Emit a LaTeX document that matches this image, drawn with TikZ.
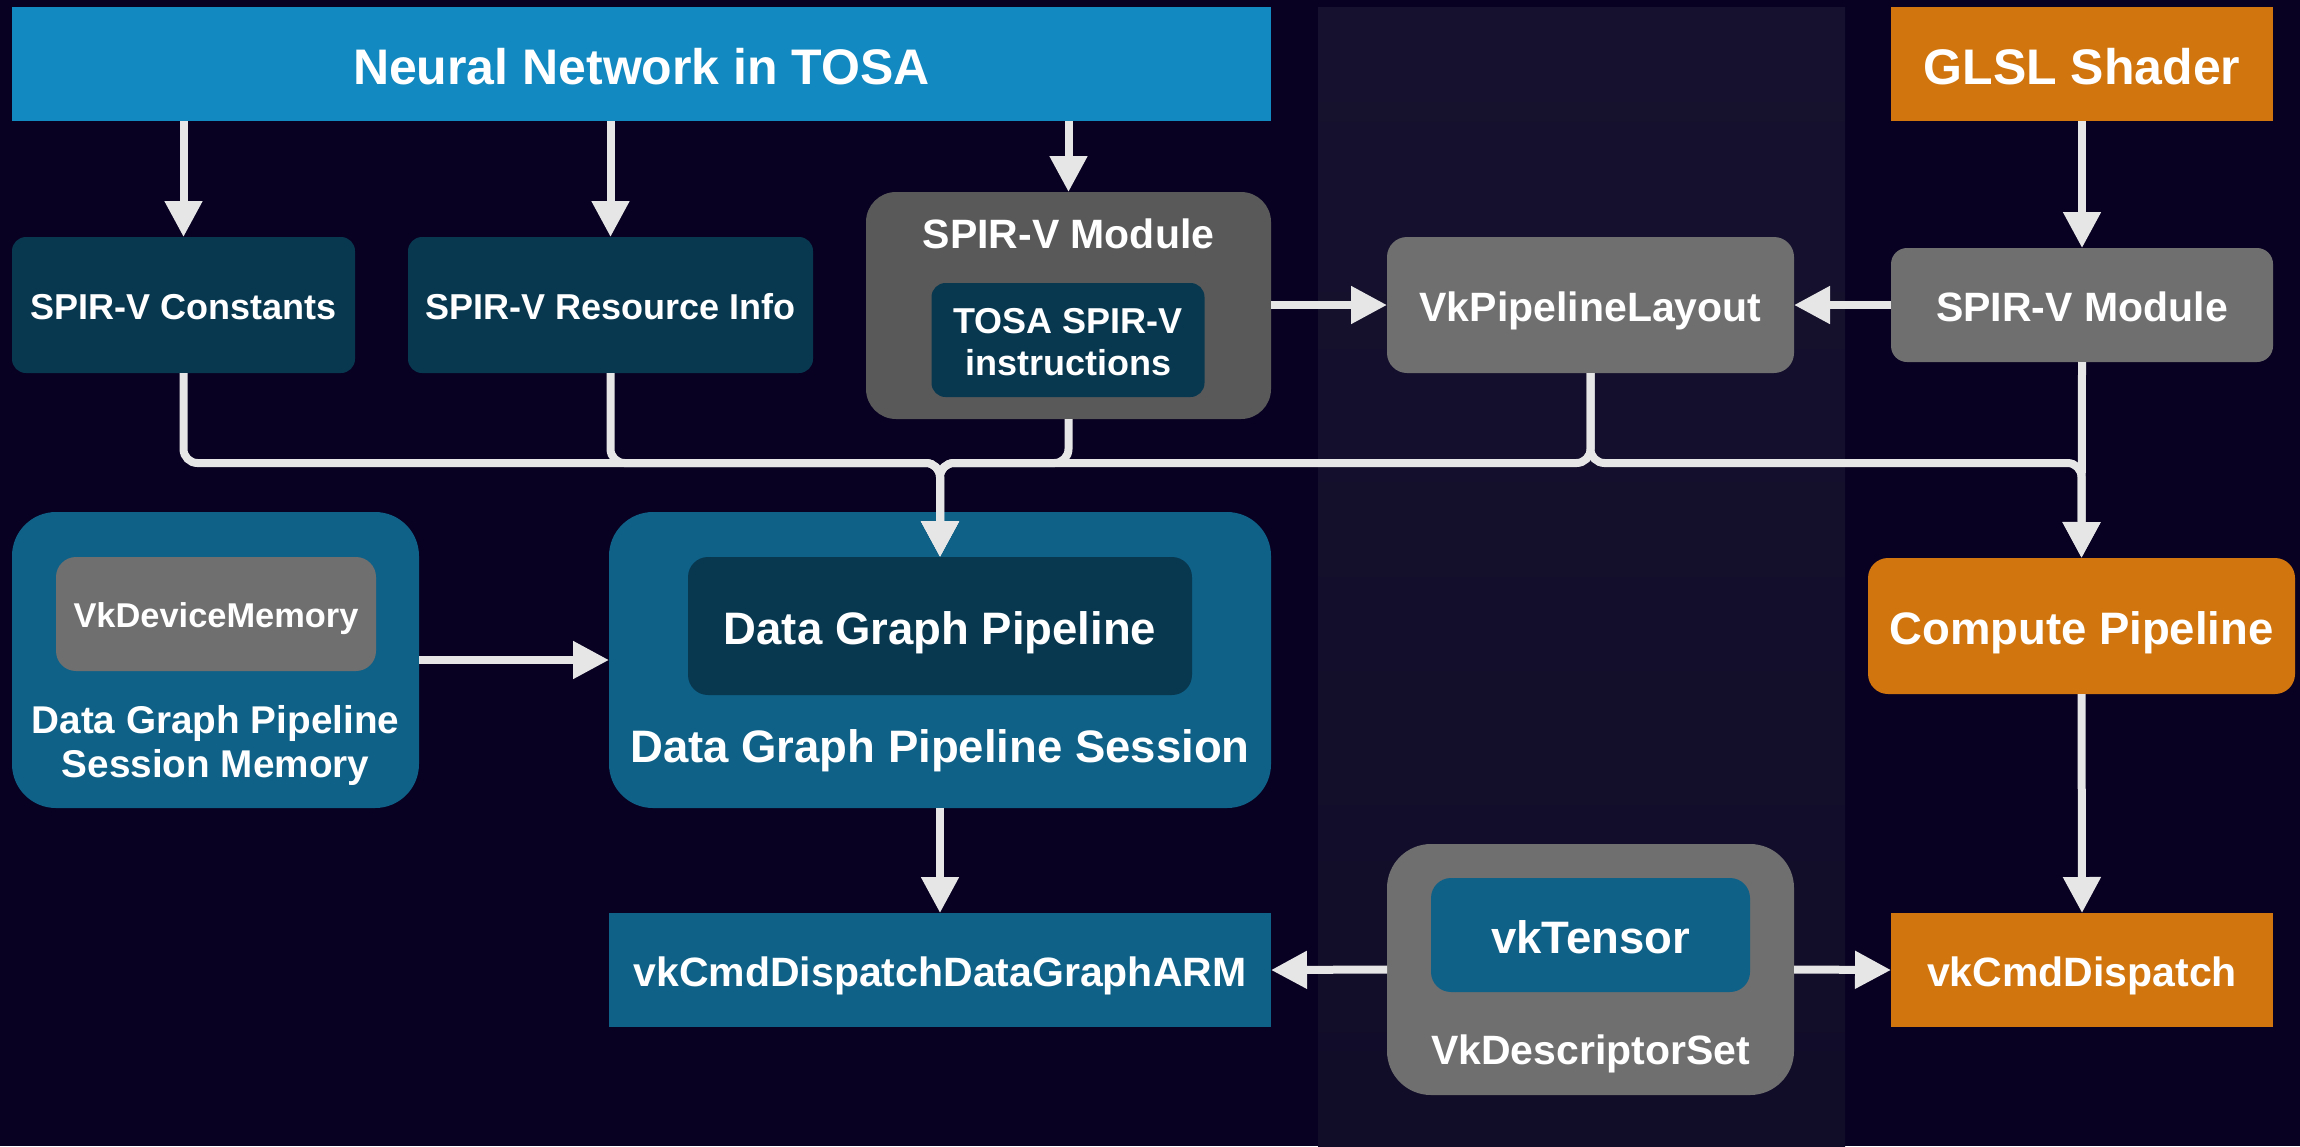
\documentclass[tikz,border=0pt]{standalone}
\usepackage{fontspec}
\setmainfont{Liberation Sans}
\usetikzlibrary{arrows.meta}

\definecolor{bgc}{RGB}{8,1,34}
\definecolor{colTop}{RGB}{22,17,46}
\definecolor{colMid}{RGB}{33,27,57}
\definecolor{colBot}{RGB}{17,12,40}
\definecolor{tosablue}{RGB}{18,137,192}
\definecolor{orangebox}{RGB}{209,118,14}
\definecolor{darkteal}{RGB}{8,56,80}
\definecolor{midblue}{RGB}{15,97,136}
\definecolor{grayD}{RGB}{89,89,89}
\definecolor{grayL}{RGB}{111,111,111}
\definecolor{wire}{RGB}{230,230,230}

\begin{document}
\begin{tikzpicture}[x=0.5pt,y=-0.5pt,
  box/.style={inner sep=0pt, outer sep=0pt, text=white},
  txt/.style={inner sep=0pt, outer sep=0pt, text=white, anchor=base},
  fsA/.style={font=\bfseries\fontsize{25pt}{30pt}\selectfont, text height=20pt, text depth=0pt},
  fsB/.style={font=\bfseries\fontsize{22.75pt}{27pt}\selectfont, text height=18.2pt, text depth=0pt},
  fsC/.style={font=\bfseries\fontsize{20.5pt}{25pt}\selectfont, text height=16.4pt, text depth=0pt},
  fsD/.style={font=\bfseries\fontsize{18pt}{22pt}\selectfont, text height=14.4pt, text depth=0pt},
  fsE/.style={font=\bfseries\fontsize{17.2pt}{21pt}\selectfont, text height=13.8pt, text depth=0pt},
  fsF/.style={font=\bfseries\fontsize{19.35pt}{23pt}\selectfont},
  conn/.style={draw=wire, line width=4pt, rounded corners=7pt,
    -{Triangle[length=18pt,width=18pt]}},
]
\useasboundingbox (0,0) rectangle (2300,1146);
\fill[bgc] (0,0) rectangle (2300,1146);

% highlighted middle column
\shade[top color=colTop, middle color=colMid, bottom color=colBot]
  (1318,7) rectangle (1845,1146);

% sources
\node[box, fill=tosablue, minimum width=629.5pt, minimum height=57pt, fsA] (nn) at (641.5,64) {Neural Network in TOSA};
\node[box, fill=orangebox, minimum width=191pt, minimum height=57pt, fsA] (glsl) at (2082,64) {GLSL Shader};

% SPIR-V parts
\node[box, fill=darkteal, rounded corners=7pt, minimum width=171.5pt, minimum height=68pt, fsD] (const) at (183.5,305) {SPIR-V Constants};
\node[box, fill=darkteal, rounded corners=7pt, minimum width=202.5pt, minimum height=68pt, fsD] (resinfo) at (610.5,305) {SPIR-V Resource Info};
\node[box, fill=grayD, rounded corners=15pt, minimum width=202.5pt, minimum height=113.5pt] (modL) at (1068.5,305.5) {};
\node[txt, fsC] (modLtitle) at (1068.5,248) {SPIR-V Module};
\node[box, fill=darkteal, rounded corners=7pt, minimum width=136.5pt, minimum height=57pt] (tosa) at (1068,340) {};
\node[txt, fsD] (tosaA) at (1068,333) {TOSA SPIR-V};
\node[txt, fsD] (tosaB) at (1068,375) {instructions};

\node[box, fill=grayL, rounded corners=10pt, minimum width=203.5pt, minimum height=68pt, fsC] (layout) at (1590.5,305) {VkPipelineLayout};
\node[box, fill=grayL, rounded corners=8pt, minimum width=191pt, minimum height=57pt, fsC] (modR) at (2082,305) {SPIR-V Module};

% session memory
\node[box, fill=midblue, rounded corners=22pt, minimum width=203.5pt, minimum height=148pt] (mem) at (215.5,660) {};
\node[box, fill=grayL, rounded corners=10pt, minimum width=160pt, minimum height=57pt, fsE] (devmem) at (216,614) {VkDeviceMemory};
\node[txt, fsF] (memA) at (215.5,733) {Data Graph Pipeline};
\node[txt, fsF] (memB) at (215.5,777) {Session Memory};

% session
\node[box, fill=midblue, rounded corners=22pt, minimum width=331pt, minimum height=148pt] (sess) at (940,660) {};
\node[box, fill=darkteal, rounded corners=10pt, minimum width=252pt, minimum height=69pt, fsB] (dgp) at (940,626) {Data Graph Pipeline};
\node[txt, fsB] (sessLabel) at (940,762) {Data Graph Pipeline Session};

% compute side
\node[box, fill=orangebox, rounded corners=10pt, minimum width=213.5pt, minimum height=68pt, fsB] (compute) at (2081.5,626) {Compute Pipeline};

% dispatch commands
\node[box, fill=midblue, minimum width=331pt, minimum height=57pt, fsC] (dispDG) at (940,970) {vkCmdDispatchDataGraphARM};
\node[box, fill=orangebox, minimum width=191pt, minimum height=57pt, fsC] (disp) at (2082,970) {vkCmdDispatch};

% descriptor set
\node[box, fill=grayL, rounded corners=22pt, minimum width=203.5pt, minimum height=125.5pt] (desc) at (1590.5,969.5) {};
\node[box, fill=midblue, rounded corners=10pt, minimum width=159.5pt, minimum height=57pt, fsB] (tensor) at (1590.5,935) {vkTensor};
\node[txt, fsC] (descLabel) at (1590.5,1064) {VkDescriptorSet};

% shared horizontal bus level
\coordinate (bus) at (0,463);

% connectors
\draw[conn] (nn.south -| const.north) -- (const.north);
\draw[conn] (nn.south -| resinfo.north) -- (resinfo.north);
\draw[conn] (nn.south -| modL.north) -- (modL.north);
\draw[conn] (glsl.south) -- (modR.north);
\draw[conn] (modL.east |- layout.west) -- (layout.west);
\draw[conn] (modR.west) -- (layout.east);

\draw[conn] (const.south) -- (const.south |- bus) -- (dgp.north |- bus) -- (dgp.north);
\draw[conn] (resinfo.south) -- (resinfo.south |- bus) -- (dgp.north |- bus) -- (dgp.north);
\draw[conn] (modL.south) -- (modL.south |- bus) -- (dgp.north |- bus) -- (dgp.north);
\draw[conn] (layout.south) -- (layout.south |- bus) -- (dgp.north |- bus) -- (dgp.north);
\draw[conn] (layout.south) -- (layout.south |- bus) -- (compute.north |- bus) -- (compute.north);
\draw[conn] (modR.south) -- (compute.north);

\draw[conn] (mem.east) -- (sess.west);
\draw[conn] (sess.south) -- (dispDG.north);
\draw[conn] (compute.south) -- (disp.north);
\draw[conn] (desc.west) -- (dispDG.east);
\draw[conn] (desc.east) -- (disp.west);
\end{tikzpicture}
\end{document}
